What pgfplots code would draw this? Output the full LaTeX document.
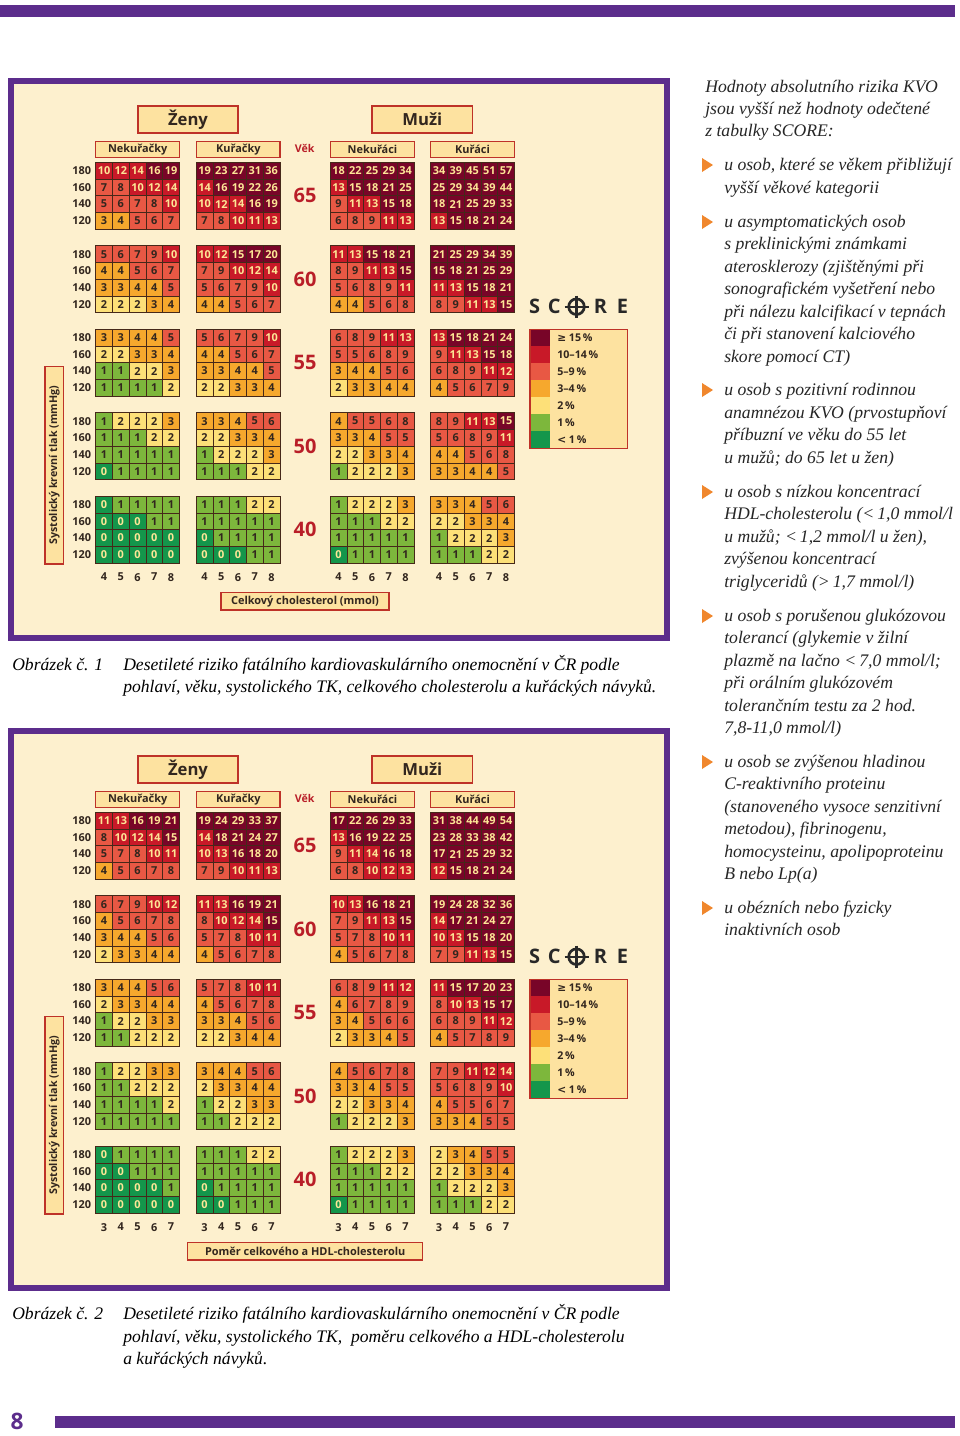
\documentclass[border=0pt]{standalone}
\usepackage{fontspec}
\setmainfont{Liberation Serif}
\newfontfamily\cf{Open Sans}
\newfontfamily\djv{DejaVu Sans}
\usepackage{pgfplots}
\usepackage{pgfplotstable}
\pgfplotsset{compat=1.18}

\definecolor{pur}{RGB}{92,45,140}
\definecolor{cream}{RGB}{253,240,206}
\definecolor{hdrfill}{RGB}{253,226,160}
\definecolor{hdrdraw}{RGB}{190,50,40}
\definecolor{agecol}{RGB}{185,30,40}
\definecolor{cA}{RGB}{20,150,75}
\definecolor{cB}{RGB}{125,183,60}
\definecolor{cC}{RGB}{253,224,120}
\definecolor{cD}{RGB}{246,168,45}
\definecolor{cE}{RGB}{232,88,68}
\definecolor{cF}{RGB}{200,25,40}
\definecolor{cG}{RGB}{120,5,40}
\definecolor{txd}{RGB}{50,38,30}
\definecolor{txl}{RGB}{253,230,150}
\definecolor{cellline}{RGB}{70,40,25}
\definecolor{bul}{RGB}{240,135,45}
\definecolor{logocol}{RGB}{40,40,40}

\newcommand\cellfont{\cf\bfseries\fontsize{8.2pt}{9pt}\selectfont}
\newcommand\hdrfont{\cf\bfseries\fontsize{8.2pt}{9pt}\selectfont}
\newcommand\bigfont{\cf\bfseries\fontsize{12.5pt}{14pt}\selectfont}
\newcommand\agefont{\cf\bfseries\fontsize{15pt}{17pt}\selectfont}
\newcommand\vekfont{\cf\bfseries\fontsize{8pt}{9pt}\selectfont}
\newcommand\ylfont{\cf\bfseries\fontsize{8pt}{9pt}\selectfont}
\newcommand\legfont{\cf\bfseries\fontsize{8pt}{9pt}\selectfont}
\newcommand\logofont{\cf\bfseries\fontsize{15pt}{17pt}\selectfont}
\newcommand\rtfont{\itshape\fontsize{13.25pt}{16pt}\selectfont}
\newcommand\capfont{\itshape\fontsize{13.2pt}{16pt}\selectfont}

\newcommand\cellnum[1]{\ifnum#1<1\relax\textcolor{txl}{#1}\else\ifnum#1>9\relax\textcolor{txl}{#1}\else\textcolor{txd}{#1}\fi\fi}

% Chart 1: total cholesterol 4..8 ; columns c0-c4 women non-smokers, c5-c9 women smokers, c10-c14 men non-smokers, c15-c19 men smokers
\pgfplotstableread{
a  s   c0 c1 c2 c3 c4 c5 c6 c7 c8 c9 c10 c11 c12 c13 c14 c15 c16 c17 c18 c19
65 180 10 12 14 16 19 19 23 27 31 36 18 22 25 29 34 34 39 45 51 57
65 160 7 8 10 12 14 14 16 19 22 26 13 15 18 21 25 25 29 34 39 44
65 140 5 6 7 8 10 10 12 14 16 19 9 11 13 15 18 18 21 25 29 33
65 120 3 4 5 6 7 7 8 10 11 13 6 8 9 11 13 13 15 18 21 24
60 180 5 6 7 9 10 10 12 15 17 20 11 13 15 18 21 21 25 29 34 39
60 160 4 4 5 6 7 7 9 10 12 14 8 9 11 13 15 15 18 21 25 29
60 140 3 3 4 4 5 5 6 7 9 10 5 6 8 9 11 11 13 15 18 21
60 120 2 2 2 3 4 4 4 5 6 7 4 4 5 6 8 8 9 11 13 15
55 180 3 3 4 4 5 5 6 7 9 10 6 8 9 11 13 13 15 18 21 24
55 160 2 2 3 3 4 4 4 5 6 7 5 5 6 8 9 9 11 13 15 18
55 140 1 1 2 2 3 3 3 4 4 5 3 4 4 5 6 6 8 9 11 12
55 120 1 1 1 1 2 2 2 3 3 4 2 3 3 4 4 4 5 6 7 9
50 180 1 2 2 2 3 3 3 4 5 6 4 5 5 6 8 8 9 11 13 15
50 160 1 1 1 2 2 2 2 3 3 4 3 3 4 5 5 5 6 8 9 11
50 140 1 1 1 1 1 1 2 2 2 3 2 2 3 3 4 4 4 5 6 8
50 120 0 1 1 1 1 1 1 1 2 2 1 2 2 2 3 3 3 4 4 5
40 180 0 1 1 1 1 1 1 1 2 2 1 2 2 2 3 3 3 4 5 6
40 160 0 0 0 1 1 1 1 1 1 1 1 1 1 2 2 2 2 3 3 4
40 140 0 0 0 0 0 0 1 1 1 1 1 1 1 1 1 1 2 2 2 3
40 120 0 0 0 0 0 0 0 0 1 1 0 1 1 1 1 1 1 1 2 2
}\tabA

% Chart 2: total/HDL cholesterol ratio 3..7
\pgfplotstableread{
a  s   c0 c1 c2 c3 c4 c5 c6 c7 c8 c9 c10 c11 c12 c13 c14 c15 c16 c17 c18 c19
65 180 11 13 16 19 21 19 24 29 33 37 17 22 26 29 33 31 38 44 49 54
65 160 8 10 12 14 15 14 18 21 24 27 13 16 19 22 25 23 28 33 38 42
65 140 5 7 8 10 11 10 13 16 18 20 9 11 14 16 18 17 21 25 29 32
65 120 4 5 6 7 8 7 9 10 11 13 6 8 10 12 13 12 15 18 21 24
60 180 6 7 9 10 12 11 13 16 19 21 10 13 16 18 21 19 24 28 32 36
60 160 4 5 6 7 8 8 10 12 14 15 7 9 11 13 15 14 17 21 24 27
60 140 3 4 4 5 6 5 7 8 10 11 5 7 8 10 11 10 13 15 18 20
60 120 2 3 3 4 4 4 5 6 7 8 4 5 6 7 8 7 9 11 13 15
55 180 3 4 4 5 6 5 7 8 10 11 6 8 9 11 12 11 15 17 20 23
55 160 2 3 3 4 4 4 5 6 7 8 4 6 7 8 9 8 10 13 15 17
55 140 1 2 2 3 3 3 3 4 5 6 3 4 5 6 6 6 8 9 11 12
55 120 1 1 2 2 2 2 2 3 4 4 2 3 3 4 5 4 5 7 8 9
50 180 1 2 2 3 3 3 4 4 5 6 4 5 6 7 8 7 9 11 12 14
50 160 1 1 2 2 2 2 3 3 4 4 3 3 4 5 5 5 6 8 9 10
50 140 1 1 1 1 2 1 2 2 3 3 2 2 3 3 4 4 5 5 6 7
50 120 1 1 1 1 1 1 1 2 2 2 1 2 2 2 3 3 3 4 5 5
40 180 0 1 1 1 1 1 1 1 2 2 1 2 2 2 3 2 3 4 5 5
40 160 0 0 1 1 1 1 1 1 1 1 1 1 1 2 2 2 2 3 3 4
40 140 0 0 0 0 1 0 1 1 1 1 1 1 1 1 1 1 2 2 2 3
40 120 0 0 0 0 0 0 0 1 1 1 0 1 1 1 1 1 1 1 2 2
}\tabB

\pgfplotsset{
  cells/.style={
    scatter, only marks, mark=square*, mark size=6.28pt,
    mark options={draw=cellline, line width=0.5pt},
    point meta=explicit symbolic,
    scatter/@pre marker code/.code={%
      \ifnum\pgfplotspointmeta<1\relax \def\cc{cA}%
      \else\ifnum\pgfplotspointmeta<2\relax \def\cc{cB}%
      \else\ifnum\pgfplotspointmeta<3\relax \def\cc{cC}%
      \else\ifnum\pgfplotspointmeta<5\relax \def\cc{cD}%
      \else\ifnum\pgfplotspointmeta<10\relax \def\cc{cE}%
      \else\ifnum\pgfplotspointmeta<15\relax \def\cc{cF}%
      \else \def\cc{cG}\fi\fi\fi\fi\fi\fi
      \edef\markopts{fill=\cc}%
      \expandafter\scope\expandafter[\markopts]%
    },
    scatter/@post marker code/.code={\endscope},
  },
  cellnums/.style={
    draw=none, mark=none,
    point meta=explicit symbolic,
    nodes near coords={\cellnum{\pgfplotspointmeta}},
    nodes near coords align=center,
    every node near coord/.append style={font=\cellfont, inner sep=0pt, anchor=center},
  },
  scoreaxis/.style={
    anchor=north west, x=12.5625pt, y=12.525pt,
    xmin=-0.5, xmax=24.5, ymin=-23.5, ymax=0.5, clip=false,
    axis line style={draw=none}, tick style={draw=none}, major tick length=0pt,
    ytick={-23,-22,-21,-20,-18,-17,-16,-15,-13,-12,-11,-10,-8,-7,-6,-5,-3,-2,-1,0},
    yticklabels={120,140,160,180,120,140,160,180,120,140,160,180,120,140,160,180,120,140,160,180},
    xtick={0,1,2,3,4,6,7,8,9,10,14,15,16,17,18,20,21,22,23,24},
    tick label style={font=\cellfont, text=txd},
    xticklabel style={yshift=-4pt},
  },
}

\newcommand\hdrbox[5]{\draw[hdrdraw, line width=1.1pt, fill=hdrfill] (#1,#2) rectangle (#3,#4); \node[text=txd, inner sep=0pt] at ({(#1+#3)/2},{(#2+#4)/2}) {#5};}
\newcommand\legitem[3]{\fill[#2] (530,{329.3+17*#1}) rectangle (550,{346.3+17*#1}); \node[anchor=west, font=\legfont, text=txd, inner sep=0pt] at (557,{337.8+17*#1}) {#3};}
\newcommand\commonparts{%
  \draw[pur, line width=4.5pt, fill=cream] (10.5,80.5) rectangle (666.5,638);
  \hdrbox{138}{106}{238}{133}{\bigfont Ženy}
  \hdrbox{372}{106}{472.7}{133}{\bigfont Muži}
  \hdrbox{95.7}{141.3}{179.7}{157.3}{\hdrfont Nekuřačky}
  \hdrbox{196.7}{141.3}{280}{157.3}{\hdrfont Kuřačky}
  \hdrbox{330.7}{141.3}{414.3}{157.3}{\hdrfont Nekuřáci}
  \hdrbox{430.7}{141.3}{514.3}{157.3}{\hdrfont Kuřáci}
  \node[font=\vekfont, text=agecol] at (304.7,148) {Věk};
  \draw[hdrdraw, line width=1.1pt, fill=hdrfill] (45,366.7) rectangle (63.3,564);
  \node[rotate=90, font=\ylfont, text=txd] at (54.2,465.3) {Systolický krevní tlak (mmHg)};
  % SCORE logo
  \node[font=\logofont, text=logocol] at (534.7,306.7) {S};
  \node[font=\logofont, text=logocol] at (554.3,306.7) {C};
  \node[font=\logofont, text=logocol] at (600.5,306.7) {R};
  \node[font=\logofont, text=logocol] at (622.5,306.7) {E};
  \draw[logocol, line width=2pt] (576.5,306.7) circle (7.8);
  \draw[logocol, line width=1.8pt] (564.5,306.7) -- (588.5,306.7) (576.5,295.5) -- (576.5,318);
  % legend
  \fill[hdrfill] (530,329.3) rectangle (627.3,448.3);
  \legitem{0}{cG}{{\djv ≥} 15\,\%}
  \legitem{1}{cF}{10–14\,\%}
  \legitem{2}{cE}{5–9\,\%}
  \legitem{3}{cD}{3–4\,\%}
  \legitem{4}{cC}{2\,\%}
  \legitem{5}{cB}{1\,\%}
  \legitem{6}{cA}{{\djv <} 1\,\%}
  \draw[hdrdraw, line width=1.1pt] (530,329.3) rectangle (627.3,448.3);
}
\newcommand\rl[3]{\node[anchor=base west, inner sep=0pt, font=\rtfont, text=black!85] at (#1,#2) {#3};}
\newcommand\bl[1]{\fill[bul] (702,{#1-7}) -- (713,#1) -- (702,{#1+7}) -- cycle;}
\newcommand\agenodes{%
  \node[font=\agefont, text=agecol] at (axis cs:12,-1.5) {65};
  \node[font=\agefont, text=agecol] at (axis cs:12,-6.5) {60};
  \node[font=\agefont, text=agecol] at (axis cs:12,-11.5) {55};
  \node[font=\agefont, text=agecol] at (axis cs:12,-16.5) {50};
  \node[font=\agefont, text=agecol] at (axis cs:12,-21.5) {40};
}

\begin{document}
\begin{tikzpicture}
\path[use as bounding box] (0pt,0pt) rectangle (720pt,-1077pt);
\begin{scope}[x=0.75pt,y=-0.75pt]
  \fill[white] (0,0) rectangle (960,1436);
  \fill[pur] (0,5) rectangle (955,17);
  \fill[pur] (55,1416) rectangle (955,1428);
  \node[font=\cf\bfseries\fontsize{17pt}{19pt}\selectfont, text=pur] at (17,1421) {8};
  \commonparts
  \hdrbox{221}{592.7}{389}{610}{\hdrfont Celkový cholesterol (mmol)}
\end{scope}
\begin{scope}[x=0.75pt,y=-0.75pt,yshift=-487.5pt]
  \commonparts
  \hdrbox{187.7}{592.7}{422.7}{610}{\hdrfont Poměr celkového a HDL-cholesterolu}
\end{scope}

\begin{axis}[scoreaxis, at={(71.775pt,-121.725pt)},
  xticklabels={4,5,6,7,8,4,5,6,7,8,4,5,6,7,8,4,5,6,7,8}]
\pgfplotsinvokeforeach{0,...,19}{
  \addplot[cells] table[x expr={#1+(#1>4)+3*(#1>9)+(#1>14)},
    y expr={-5*min((65-\thisrow{a})/5,4)-(180-\thisrow{s})/20}, meta=c#1] {\tabA};
}
\pgfplotsinvokeforeach{0,...,19}{
  \addplot[cellnums] table[x expr={#1+(#1>4)+3*(#1>9)+(#1>14)},
    y expr={-5*min((65-\thisrow{a})/5,4)-(180-\thisrow{s})/20}, meta=c#1] {\tabA};
}
\agenodes
\end{axis}

\begin{axis}[scoreaxis, at={(71.775pt,-609.225pt)},
  xticklabels={3,4,5,6,7,3,4,5,6,7,3,4,5,6,7,3,4,5,6,7}]
\pgfplotsinvokeforeach{0,...,19}{
  \addplot[cells] table[x expr={#1+(#1>4)+3*(#1>9)+(#1>14)},
    y expr={-5*min((65-\thisrow{a})/5,4)-(180-\thisrow{s})/20}, meta=c#1] {\tabB};
}
\pgfplotsinvokeforeach{0,...,19}{
  \addplot[cellnums] table[x expr={#1+(#1>4)+3*(#1>9)+(#1>14)},
    y expr={-5*min((65-\thisrow{a})/5,4)-(180-\thisrow{s})/20}, meta=c#1] {\tabB};
}
\agenodes
\end{axis}

\begin{scope}[x=0.75pt,y=-0.75pt]
  % captions
  \node[anchor=base west, inner sep=0pt, font=\capfont] at (12,670) {Obrázek č. 1};
  \node[anchor=base west, inner sep=0pt, font=\capfont] at (123,670) {Desetileté riziko fatálního kardiovaskulárního onemocnění v ČR podle};
  \node[anchor=base west, inner sep=0pt, font=\capfont] at (123,692) {pohlaví, věku, systolického TK, celkového cholesterolu a kuřáckých návyků.};
  \node[anchor=base west, inner sep=0pt, font=\capfont] at (12,1319) {Obrázek č. 2};
  \node[anchor=base west, inner sep=0pt, font=\capfont] at (123,1319) {Desetileté riziko fatálního kardiovaskulárního onemocnění v ČR podle};
  \node[anchor=base west, inner sep=0pt, font=\capfont] at (123,1342) {pohlaví, věku, systolického TK,\ \ poměru celkového a HDL-cholesterolu};
  \node[anchor=base west, inner sep=0pt, font=\capfont] at (123,1364) {a kuřáckých návyků.};
  % right column
  \rl{705}{92}{Hodnoty absolutního rizika KVO}
  \rl{705}{114}{jsou vyšší než hodnoty odečtené}
  \rl{705}{136}{z tabulky SCORE:}
  \bl{165}
  \rl{724}{170}{u osob, které se věkem přibližují}
  \rl{724}{193}{vyšší věkové kategorii}
  \bl{222}
  \rl{724}{227}{u asymptomatických osob}
  \rl{724}{249}{s preklinickými známkami}
  \rl{724}{272}{aterosklerozy (zjištěnými při}
  \rl{724}{294}{sonografickém vyšetření nebo}
  \rl{724}{317}{při nálezu kalcifikací v tepnách}
  \rl{724}{339}{či při stanovení kalciového}
  \rl{724}{362}{skore pomocí CT)}
  \bl{390}
  \rl{724}{395}{u osob s pozitivní rodinnou}
  \rl{724}{418}{anamnézou KVO (prvostupňoví}
  \rl{724}{440}{příbuzní ve věku do 55 let}
  \rl{724}{463}{u mužů; do 65 let u žen)}
  \bl{492}
  \rl{724}{497}{u osob s nízkou koncentrací}
  \rl{724}{519}{HDL-cholesterolu (<\,1,0 mmol/l}
  \rl{724}{542}{u mužů; <\,1,2 mmol/l u žen),}
  \rl{724}{564}{zvýšenou koncentrací}
  \rl{724}{587}{triglyceridů (>\,1,7 mmol/l)}
  \bl{616}
  \rl{724}{621}{u osob s porušenou glukózovou}
  \rl{724}{643}{tolerancí (glykemie v žilní}
  \rl{724}{666}{plazmě na lačno <\,7,0 mmol/l;}
  \rl{724}{688}{při orálním glukózovém}
  \rl{724}{711}{tolerančním testu za 2 hod.}
  \rl{724}{733}{7,8-11,0 mmol/l)}
  \bl{762}
  \rl{724}{767}{u osob se zvýšenou hladinou}
  \rl{724}{789}{C-reaktivního proteinu}
  \rl{724}{812}{(stanoveného vysoce senzitivní}
  \rl{724}{834}{metodou), fibrinogenu,}
  \rl{724}{857}{homocysteinu, apolipoproteinu}
  \rl{724}{879}{B nebo Lp(a)}
  \bl{908}
  \rl{724}{913}{u obézních nebo fyzicky}
  \rl{724}{935}{inaktivních osob}
\end{scope}
\end{tikzpicture}
\end{document}
